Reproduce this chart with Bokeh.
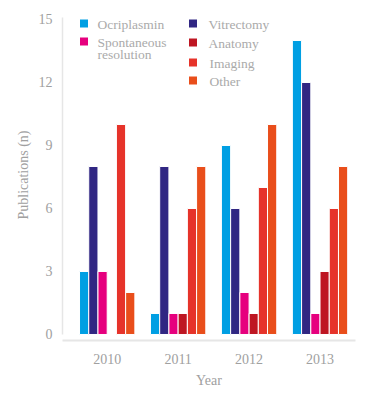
from bokeh.plotting import figure
from bokeh.models import ColumnDataSource, FixedTicker, Range1d
from bokeh.core.properties import value
from bokeh.embed import file_html
from bokeh.resources import INLINE

years = ["2010", "2011", "2012", "2013"]
series = ["Ocriplasmin", "Vitrectomy", "Spontaneous", "Anatomy", "Imaging", "Other"]
ocriplasmin = [3, 1, 9, 14]
vitrectomy = [8, 8, 6, 12]
spontaneous = [3, 1, 2, 1]
anatomy = [0, 1, 1, 3]
imaging = [10, 6, 7, 6]
other = [2, 8, 10, 8]
colors = ["#009FE3", "#312783", "#E6007E", "#BE1622", "#E6332A", "#E94E1B"]
y_ticks = [0, 3, 6, 9, 12, 15]

values = [ocriplasmin, vitrectomy, spontaneous, anatomy, imaging, other]
FONT = "Liberation Serif"
GRAY = "#a0a0a0"

X0, X1 = 0.37, 4.5
Y0, Y1 = -0.286, 15.476
FW, FH = 293, 331
p = figure(width=374, height=395, output_backend="svg", toolbar_location=None,
           x_range=Range1d(X0, X1), y_range=Range1d(Y0, Y1),
           min_border_left=62, min_border_right=19, min_border_top=9, min_border_bottom=55)
p.outline_line_color = None
p.xgrid.visible = False
p.ygrid.visible = False

xs = list(range(1, len(years) + 1))
bw = 0.13
for i, (name, vals, col) in enumerate(zip(series, values, colors)):
    off = (i - 2.5) * bw
    src = ColumnDataSource(dict(x=[x + off for x in xs], top=vals))
    p.vbar(x="x", top="top", bottom=0, width=bw, source=src,
           fill_color=col, line_color="white", line_width=1)

p.xaxis.ticker = FixedTicker(ticks=xs)
p.xaxis.major_label_overrides = {x: y for x, y in zip(xs, years)}
p.yaxis.ticker = FixedTicker(ticks=y_ticks)
p.yaxis.bounds = (0, 15.1)
for ax in (p.xaxis, p.yaxis):
    ax.major_tick_line_color = None
    ax.minor_tick_line_color = None
    ax.major_tick_out = 0
    ax.major_tick_in = 0
    ax.minor_tick_out = 0
    ax.minor_tick_in = 0
    ax.major_label_text_font = FONT
    ax.major_label_text_font_size = "14px"
    ax.major_label_text_color = GRAY
    ax.axis_label_text_font = FONT
    ax.axis_label_text_font_size = "14px"
    ax.axis_label_text_font_style = "normal"
    ax.axis_label_text_color = GRAY
p.xaxis.axis_line_color = "#e6e6e6"
p.xaxis.axis_line_width = 2
p.yaxis.axis_line_color = "#e6e6e6"
p.yaxis.axis_line_width = 1.5
p.xaxis.axis_label = "Year"
p.yaxis.axis_label = "Publications (n)"
p.xaxis.major_label_standoff = 13
p.yaxis.major_label_standoff = 10
p.xaxis.axis_label_standoff = 6
p.yaxis.axis_label_standoff = 5

# legend layout (pixel positions inside the frame, converted to data space)
def dx(px):
    return X0 + px * (X1 - X0) / FW

def dy(py):
    return Y1 - py * (Y1 - Y0) / FH

leg_sq_x = [21.5, 21.5, 130.5, 130.5, 130.5, 130.5]
leg_sq_y = [14, 32, 14, 33, 53, 71]
leg_tx_x = [35, 35, 146, 146, 147, 147]
leg_labels = ["Ocriplasmin", "Spontaneous\nresolution", "Vitrectomy", "Anatomy", "Imaging", "Other"]
order = [0, 2, 1, 3, 4, 5]
for k, si in enumerate(order):
    p.rect(x=[dx(leg_sq_x[k])], y=[dy(leg_sq_y[k])], width=9, height=9,
           width_units="screen", height_units="screen",
           fill_color=colors[si], line_color="white", line_width=1)
    p.text(x=[dx(leg_tx_x[k])], y=[dy(leg_sq_y[k] - 7)], text=[leg_labels[k]],
           text_font=value(FONT), text_font_size="13.5px", text_color="#aaaaaa",
           text_baseline="top", text_align="left", text_line_height=0.85)

open("out.html", "w").write(file_html(p, INLINE))
